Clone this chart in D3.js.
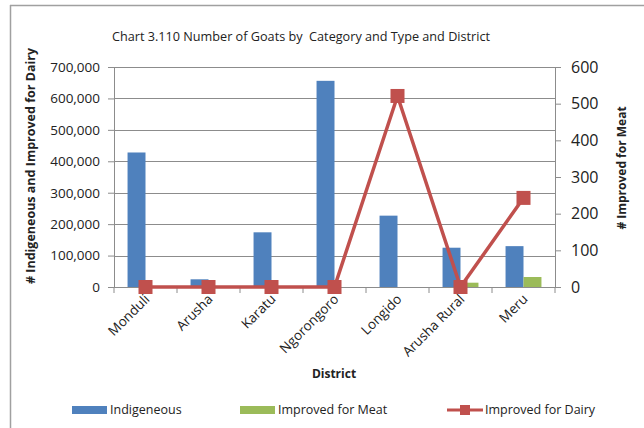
<!DOCTYPE html>
<html><head><meta charset="utf-8">
<script src="https://cdn.jsdelivr.net/npm/d3@7/dist/d3.min.js"></script>
<style>
body{margin:0;background:#fff;}
text{font-family:"Open Sans","Liberation Sans",sans-serif;fill:#222;}
</style></head><body>
<svg id="c" width="644" height="428"></svg>
<script>
const districts = ["Monduli","Arusha","Karatu","Ngorongoro","Longido","Arusha Rural","Meru"];
const indigenous = [428000, 24500, 174000, 656000, 227000, 125000, 130000];
const improvedMeat = [0, 0, 0, 0, 0, 13700, 31800];
const improvedDairy = [0, 0, 0, 0, 521, 0, 243];
const leftTicks = [0,100000,200000,300000,400000,500000,600000,700000];
const rightTicks = [0,100,200,300,400,500,600];

const svg = d3.select("#c");
const m = {l:114, r:555, t:67, b:287};

// frame
svg.append("line").attr("x1",10.5).attr("x2",10.5).attr("y1",5).attr("y2",428).attr("stroke","#a0a0a0").attr("stroke-width",1.5);
svg.append("line").attr("x1",10).attr("x2",644).attr("y1",5.5).attr("y2",5.5).attr("stroke","#a0a0a0").attr("stroke-width",1.5);

const x = d3.scaleBand().domain(districts).range([m.l, m.r]).paddingInner(0.43).paddingOuter(0.215);
const xs = d3.scaleBand().domain(["ind","meat"]).range([0, x.bandwidth()]);
const xc = d3.scalePoint().domain(districts).range([m.l, m.r]).padding(0.5);
const yL = d3.scaleLinear().domain([0,700000]).range([m.b, m.t]);
const yR = d3.scaleLinear().domain([0,600]).range([m.b, m.t]);

// gridlines
svg.append("g").selectAll("line").data(leftTicks.slice(1)).join("line")
  .attr("x1",m.l).attr("x2",m.r).attr("y1",d=>Math.round(yL(d))+0.5).attr("y2",d=>Math.round(yL(d))+0.5)
  .attr("stroke","#8c8c8c").attr("stroke-width",1);

// left axis
const gL = svg.append("g").attr("transform",`translate(${m.l},0)`)
  .call(d3.axisLeft(yL).tickValues(leftTicks).tickFormat(d3.format(",")).tickSize(6).tickPadding(8));
gL.select(".domain").attr("stroke","#8c8c8c");
gL.selectAll(".tick line").attr("stroke","#8c8c8c");
gL.selectAll("text").attr("font-size",13.5).attr("fill","#222").style("font-family","'Open Sans',sans-serif");

// right axis
const gR = svg.append("g").attr("transform",`translate(${m.r},0)`)
  .call(d3.axisRight(yR).tickValues(rightTicks).tickSize(6).tickPadding(10));
gR.select(".domain").attr("stroke","#8c8c8c");
gR.selectAll(".tick line").attr("stroke","#8c8c8c");
gR.selectAll("text").attr("font-size",16).attr("fill","#222").style("font-family","'Open Sans',sans-serif");

// bottom axis
const gB = svg.append("g").attr("transform",`translate(0,${m.b})`);
gB.append("line").attr("x1",m.l).attr("x2",m.r).attr("y1",0.5).attr("y2",0.5).attr("stroke","#8c8c8c");
const bounds = d3.range(districts.length+1).map(i=>m.l + i*(m.r-m.l)/districts.length);
gB.selectAll("line.t").data(bounds).join("line").attr("class","t")
  .attr("x1",d=>d).attr("x2",d=>d).attr("y1",0).attr("y2",6).attr("stroke","#8c8c8c");
gB.selectAll("text").data(districts).join("text")
  .attr("transform",d=>`translate(${xc(d)+5},${13}) rotate(-45)`)
  .attr("text-anchor","end").attr("font-size",13.5).attr("fill","#222").text(d=>d);

// bars
svg.append("g").selectAll("rect").data(districts).join("rect")
  .attr("x",d=>x(d)+xs("ind")).attr("width",xs.bandwidth())
  .attr("y",(d,i)=>yL(indigenous[i])).attr("height",(d,i)=>m.b-yL(indigenous[i]))
  .attr("fill","#4f81bd");
svg.append("g").selectAll("rect").data(districts).join("rect")
  .attr("x",d=>x(d)+xs("meat")).attr("width",xs.bandwidth())
  .attr("y",(d,i)=>yL(improvedMeat[i])).attr("height",(d,i)=>m.b-yL(improvedMeat[i]))
  .attr("fill","#9bbb59");

// line
const line = d3.line().x((d,i)=>xc(districts[i])).y(d=>yR(d));
svg.append("path").datum(improvedDairy).attr("d",line).attr("fill","none")
  .attr("stroke","#c0504d").attr("stroke-width",3.5);
svg.append("g").selectAll("rect").data(improvedDairy).join("rect")
  .attr("x",(d,i)=>xc(districts[i])-7).attr("y",d=>yR(d)-7).attr("width",14).attr("height",14)
  .attr("fill","#c0504d");

// titles
svg.append("text").attr("x",301).attr("y",41).attr("text-anchor","middle").attr("font-size",13).attr("fill","#111")
  .style("white-space","pre")
  .attr("textLength",378).attr("lengthAdjust","spacingAndGlyphs")
  .text("Chart 3.110 Number of Goats by  Category and Type and District");
svg.append("text").attr("transform","translate(35,166) rotate(-90)").attr("text-anchor","middle")
  .attr("font-size",12.5).attr("font-weight","bold").attr("fill","#222").text("# Indigeneous and Improved for Dairy");
svg.append("text").attr("transform","translate(626,168) rotate(-90)").attr("text-anchor","middle")
  .attr("font-size",12).attr("font-weight","bold").attr("fill","#222").text("# Improved for Meat");
svg.append("text").attr("x",334).attr("y",378).attr("text-anchor","middle")
  .attr("font-size",12).attr("font-weight","bold").attr("fill","#222").text("District");

// legend
const lg = svg.append("g");
lg.append("rect").attr("x",72).attr("y",406).attr("width",35).attr("height",8).attr("fill","#4f81bd");
lg.append("text").attr("x",110).attr("y",414).attr("font-size",12.5).text("Indigeneous");
lg.append("rect").attr("x",240).attr("y",406).attr("width",35).attr("height",8).attr("fill","#9bbb59");
lg.append("text").attr("x",278).attr("y",414).attr("font-size",12.5).text("Improved for Meat");
lg.append("line").attr("x1",447).attr("x2",483).attr("y1",410).attr("y2",410).attr("stroke","#c0504d").attr("stroke-width",3);
lg.append("rect").attr("x",460).attr("y",405).attr("width",10).attr("height",10).attr("fill","#c0504d");
lg.append("text").attr("x",485).attr("y",414).attr("font-size",12.5).text("Improved for Dairy");
</script></body></html>
